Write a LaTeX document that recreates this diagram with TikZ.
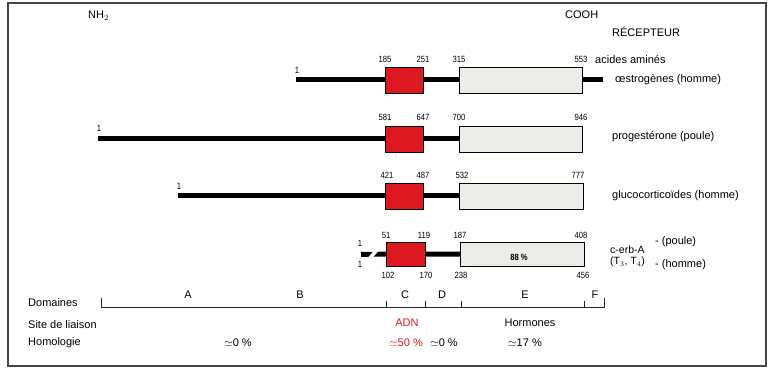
\documentclass[tikz,border=0pt]{standalone}
\usepackage{fontspec}
\setmainfont{Liberation Sans}
\newfontfamily\numfont{Liberation Sans}[FakeStretch=0.85]
\definecolor{adnred}{RGB}{222,24,32}
\definecolor{boxgrey}{RGB}{236,236,232}
\definecolor{framegrey}{RGB}{70,70,70}
\begin{document}
\begin{tikzpicture}[x=1pt,y=-1pt,
  bar/.style={line width=5pt, black},
  dbd/.style={draw=black, line width=0.9pt, fill=adnred, inner sep=0, outer sep=0, minimum width=38pt, minimum height=26pt},
  lbd/.style={draw=black, line width=0.9pt, fill=boxgrey, inner sep=0, outer sep=0, minimum width=123pt, minimum height=26pt},
  num/.style={font=\numfont\fontsize{9}{10}\selectfont, inner sep=0},
  lab/.style={font=\fontsize{11}{13}\selectfont, anchor=west, inner sep=0},
  dom/.style={font=\fontsize{11}{13}\selectfont, inner sep=0},
  axis/.style={line width=0.7pt, black!85}]
\useasboundingbox (0,0) rectangle (775,371);
\draw[line width=1.2pt, framegrey] (8,3) rectangle (766,366);

% header
\node[lab] (nh) at (88,16) {NH$_2$};
\node[lab] (cooh) at (565,15) {COOH};
\node[lab] (rec) at (612,32) {RÉCEPTEUR};
\node[lab] (aa) at (595,60) {acides aminés};

% oestrogen row
\coordinate (e0) at (296,80);
\coordinate (e1) at (603,80);
\node[dbd] (r1) at (404,80) {};
\node[lbd] (g1) at (520.5,80) {};
\draw[bar] (e0) -- (r1.west) (r1.east) -- (g1.west) (g1.east) -- (e1);
\node[num] (n1a) at (297,70) {1};
\node[num] (n1b) at (385,59) {185};
\node[num] (n1c) at (423,59) {251};
\node[num] (n1d) at (459,59) {315};
\node[num] (n1e) at (581,59) {553};
\node[lab] (l1) at (615,80) {œstrogènes (homme)};

% progesterone row
\coordinate (p0) at (98,139);
\node[dbd] (r2) at (404,139) {};
\node[lbd] (g2) at (520.5,139) {};
\draw[bar] (p0) -- (r2.west) (r2.east) -- (g2.west);
\node[num] (n2a) at (99,128) {1};
\node[num] (n2b) at (385,117) {581};
\node[num] (n2c) at (423,117) {647};
\node[num] (n2d) at (459,117) {700};
\node[num] (n2e) at (581,117) {946};
\node[lab] (l2) at (612,137) {progestérone (poule)};

% glucocorticoid row
\coordinate (c0) at (178,196);
\node[dbd] (r3) at (404,196) {};
\node[lbd, minimum width=124pt] (g3) at (521,196) {};
\draw[bar] (c0) -- (r3.west) (r3.east) -- (g3.west);
\node[num] (n3a) at (179,186) {1};
\node[num] (n3b) at (387,175) {421};
\node[num] (n3c) at (423,175) {487};
\node[num] (n3d) at (462,175) {532};
\node[num] (n3e) at (578,175) {777};
\node[lab] (l3) at (612,196) {glucocorticoïdes (homme)};

% c-erb-A row
\coordinate (t0) at (361,254.5);
\node[dbd, minimum width=39pt, minimum height=24pt] (r4) at (405.5,254) {};
\node[lbd, minimum width=124pt, minimum height=24pt] (g4) at (522,254) {};
\draw[bar] (t0) -- (r4.west) (r4.east) -- (g4.west);
\coordinate (cutA) at (369,259);
\coordinate (cutB) at (377,250);
\draw[line width=3.5pt, white] (cutA) -- (cutB);
\node[num, font=\numfont\fontsize{9}{10}\selectfont\bfseries] (p88) at (519,257) {88 \%};
\node[num] (n4a) at (360,243) {1};
\node[num] (n4b) at (360,264) {1};
\node[num] (n4c) at (386,235) {51};
\node[num] (n4d) at (424,235) {119};
\node[num] (n4e) at (460,235) {187};
\node[num] (n4f) at (581,235) {408};
\node[num] (n4g) at (388,275) {102};
\node[num] (n4h) at (426,275) {170};
\node[num] (n4i) at (461,275) {238};
\node[num] (n4j) at (583,275) {456};
\node[lab, font=\fontsize{10.5}{11}\selectfont] (l4a) at (610,250) {c-erb-A};
\node[lab, font=\fontsize{10.5}{11}\selectfont] (l4b) at (610,262) {(T$_3$, T$_4$)};
\node[lab] (l4c) at (655,242) {- (poule)};
\node[lab] (l4d) at (655,265) {- (homme)};

% domains axis
\draw[axis] (101,298) -- (101,307.5) -- (604,307.5) -- (604,298);
\foreach \x in {386,425,461,584} \draw[axis] (\x,300.5) -- (\x,307.5);
\node[dom] (dA) at (188,295) {A};
\node[dom] (dB) at (300,295) {B};
\node[dom] (dC) at (405,295) {C};
\node[dom] (dD) at (442,295) {D};
\node[dom] (dE) at (525,295) {E};
\node[dom] (dF) at (595,295) {F};

\node[lab] (dom) at (28,303) {Domaines};
\node[lab] (site) at (28,325) {Site de liaison};
\node[lab] (homo) at (28,343) {Homologie};

\node[dom, text=adnred] (adn) at (407,323) {ADN};
\node[dom] (horm) at (530,323) {Hormones};
\node[dom] (h1) at (238,343) {$\simeq$0 \%};
\node[dom, text=adnred] (h2) at (406,343) {$\simeq$50 \%};
\node[dom] (h3) at (444,343) {$\simeq$0 \%};
\node[dom] (h4) at (525,343) {$\simeq$17 \%};
\end{tikzpicture}
\end{document}
